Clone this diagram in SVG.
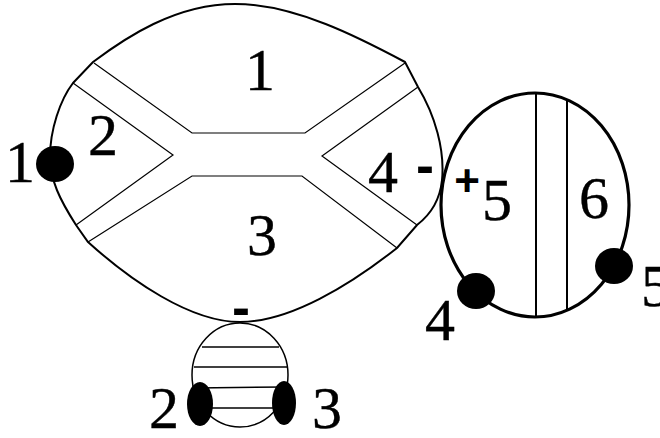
<svg xmlns="http://www.w3.org/2000/svg" width="660" height="438" viewBox="0 0 660 438">
<style>
.outline{fill:none;stroke:#000;stroke-width:2}
.thin{fill:none;stroke:#000;stroke-width:1.2}
.dot{fill:#000}
</style>
<rect width="660" height="438" fill="#fff"/>
<g id="big">
<path class="outline" d="M73,83 L93,62 C125,38 175,4 235,4 C295,4 360,38 405,62 L418,87 C435,115 445,150 442,180 C440,200 430,215 417,225 L397,248 C350,285 290,322 240,322 C190,322 130,280 88,242 L76,225 C60,200 50,180 50,157 C50,130 60,100 73,83 Z"/>
<polyline class="thin" points="94,63 192,133 305,133 405,63"/>
<polyline class="thin" points="73,83 173,155 76,225"/>
<polyline class="thin" points="88,242 192,176 302,176 397,248"/>
<polyline class="thin" points="418,87 322,156 417,225"/>
<g font-family="Liberation Serif" font-size="60" text-anchor="middle" stroke="#000" stroke-width="0.4">
<text x="260" y="90">1</text>
<text x="103" y="155">2</text>
<text x="383" y="192">4</text>
<text x="262" y="255">3</text>
</g>
</g>
<g id="right">
<ellipse cx="535" cy="205" rx="94" ry="112" fill="none" stroke="#000" stroke-width="3.2"/>
<line x1="536" y1="93" x2="536" y2="318" stroke="#000" stroke-width="2"/>
<line x1="567" y1="101" x2="567" y2="309" stroke="#000" stroke-width="2"/>
<g font-family="Liberation Serif" font-size="60" text-anchor="middle" stroke="#000" stroke-width="0.4">
<text x="497" y="220">5</text>
<text x="594" y="218">6</text>
</g>
</g>
<g id="small">
<ellipse cx="240" cy="375" rx="48" ry="52" fill="none" stroke="#000" stroke-width="1.5"/>
<line x1="202" y1="347" x2="279" y2="347" stroke="#000" stroke-width="1.5"/>
<line x1="194" y1="367" x2="287" y2="367" stroke="#000" stroke-width="1.5"/>
<line x1="195" y1="388" x2="285" y2="387" stroke="#000" stroke-width="1.5"/>
<line x1="204" y1="408" x2="276" y2="408" stroke="#000" stroke-width="1.5"/>
</g>
<g id="terminals">
<ellipse class="dot" cx="55" cy="164" rx="19" ry="18"/>
<ellipse class="dot" cx="476" cy="291" rx="19" ry="18"/>
<ellipse class="dot" cx="614" cy="266" rx="19" ry="18"/>
<ellipse class="dot" cx="200" cy="404" rx="13" ry="22"/>
<ellipse class="dot" cx="284" cy="403" rx="12" ry="22"/>
<g font-family="Liberation Serif" font-size="60" text-anchor="middle" stroke="#000" stroke-width="0.4">
<text x="20" y="182">1</text>
<text x="440" y="340">4</text>
<text x="656" y="306">5</text>
<text x="164" y="428">2</text>
<text x="327" y="428">3</text>
</g>
</g>
<g id="signs" font-family="Liberation Sans" font-weight="bold" text-anchor="middle">
<text x="425" y="184" font-size="54">-</text>
<text x="241" y="326" font-size="54">-</text>
<text x="467" y="196" font-size="44">+</text>
</g>
</svg>
